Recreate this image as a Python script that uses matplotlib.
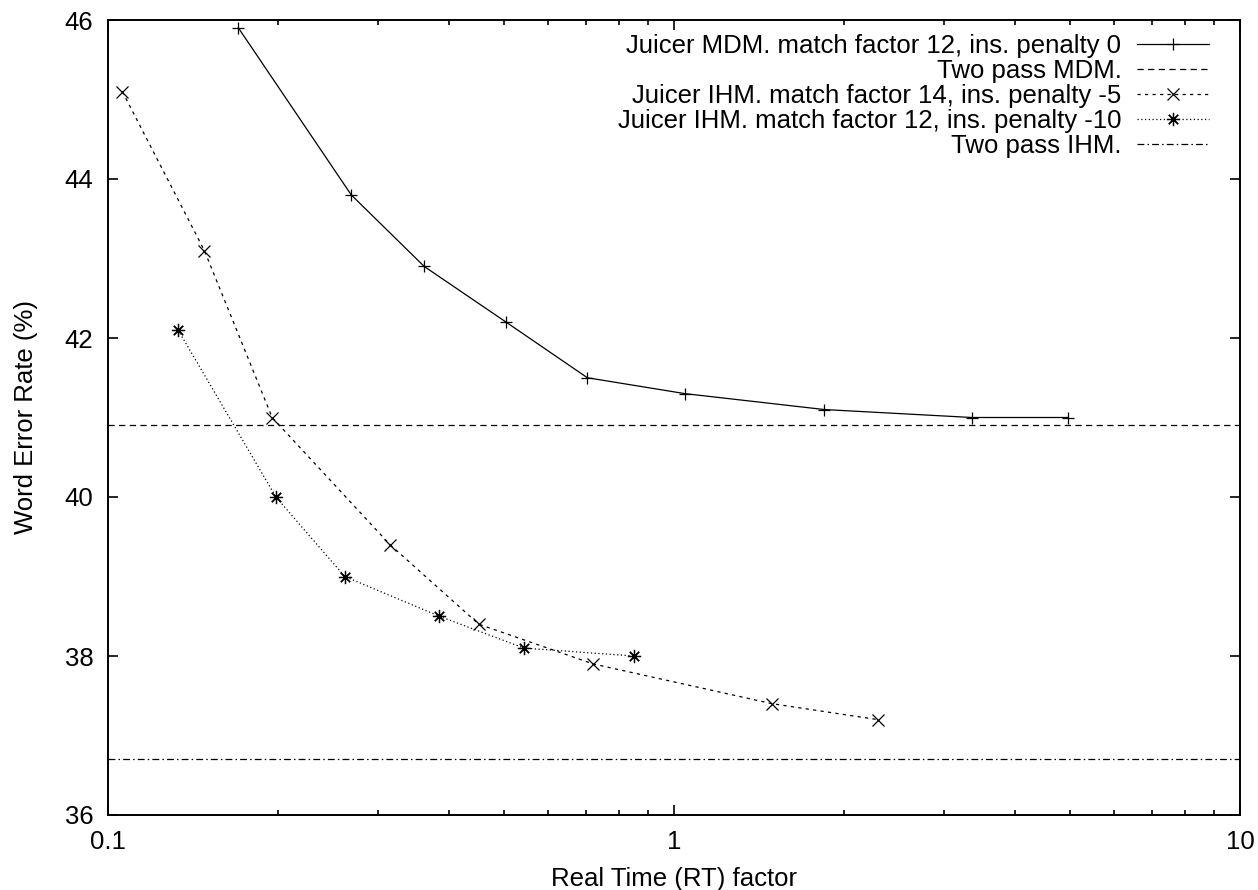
import matplotlib
matplotlib.use("Agg")
import matplotlib.pyplot as plt
from matplotlib.ticker import FixedLocator, NullFormatter

plt.rcParams['font.family'] = ['Liberation Sans', 'DejaVu Sans']

# Data
mdm_rt = [0.170, 0.269, 0.362, 0.505, 0.703, 1.046, 1.844, 3.36, 4.97]
mdm_wer = [45.9, 43.8, 42.9, 42.2, 41.5, 41.3, 41.1, 41.0, 41.0]

ihm14_rt = [0.106, 0.148, 0.195, 0.315, 0.452, 0.720, 1.49, 2.29]
ihm14_wer = [45.1, 43.1, 41.0, 39.4, 38.4, 37.9, 37.4, 37.2]

ihm12_rt = [0.133, 0.198, 0.262, 0.385, 0.543, 0.849]
ihm12_wer = [42.1, 40.0, 39.0, 38.5, 38.1, 38.0]

twopass_mdm = 40.9
twopass_ihm = 36.7

labels = [
    "Juicer MDM. match factor 12, ins. penalty 0",
    "Two pass MDM.",
    "Juicer IHM. match factor 14, ins. penalty -5",
    "Juicer IHM. match factor 12, ins. penalty -10",
    "Two pass IHM.",
]
xtick_vals = [0.1, 1, 10]
xtick_labels = ["0.1", "1", "10"]
ytick_vals = [36, 38, 40, 42, 44, 46]

W, H = 1258, 890
fig = plt.figure(figsize=(W / 100, H / 100), dpi=100)
L, R, T, B = 108, 1240, 20, 815
ax = fig.add_axes([L / W, 1 - B / H, (R - L) / W, (B - T) / H])

lw = 0.9
fs = 18.5
ax.plot(mdm_rt, mdm_wer, color='black', lw=lw, linestyle='-', marker='+',
        markersize=8, markeredgewidth=0.9, label=labels[0])
ax.axhline(twopass_mdm, color='black', lw=lw, linestyle=(0, (5, 3.5)), label=labels[1])
ax.plot(ihm14_rt, ihm14_wer, color='black', lw=lw, linestyle=(0, (2.6, 3.4)), marker='x',
        markersize=9, markeredgewidth=0.9, label=labels[2])
ax.plot(ihm12_rt, ihm12_wer, color='black', lw=lw, linestyle=(0, (1, 2)), marker=(8, 2, 0),
        markersize=9.5, markeredgewidth=0.9, label=labels[3])
ax.axhline(twopass_ihm, color='black', lw=lw, linestyle=(0, (5.5, 2.5, 1.2, 2.5)), label=labels[4])

ax.set_xscale('log')
ax.set_xlim(0.1, 10)
ax.set_ylim(36, 46)
ax.xaxis.set_major_locator(FixedLocator(xtick_vals))
ax.set_xticklabels(xtick_labels)
minors = [m * d for d in (0.1, 1) for m in range(2, 10)]
ax.xaxis.set_minor_locator(FixedLocator(minors))
ax.xaxis.set_minor_formatter(NullFormatter())
ax.set_yticks(ytick_vals)
ax.set_yticklabels([str(v) for v in ytick_vals])

ax.tick_params(which='both', direction='in', top=True, right=True, width=1.2,
               labelsize=fs, pad=10.5)
ax.tick_params(which='major', length=7.2)
ax.tick_params(which='minor', length=3.6)
for s in ax.spines.values():
    s.set_linewidth(1.4)

ax.set_xlabel("Real Time (RT) factor", fontsize=fs, labelpad=10)
ax.set_ylabel("Word Error Rate (%)", fontsize=fs, labelpad=19)

leg = ax.legend(loc='upper right', bbox_to_anchor=((1209 - L) / (R - L), 1 - 14 / (B - T)),
                frameon=False, markerfirst=False, fontsize=fs, borderpad=0,
                borderaxespad=0, labelspacing=0.04, handlelength=2.79, handletextpad=0.62)

fig.savefig("out.png", dpi=100)
